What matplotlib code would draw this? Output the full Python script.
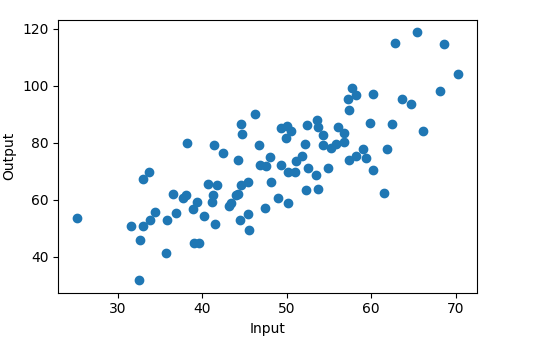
import numpy as np
import matplotlib
matplotlib.use("Agg")
import matplotlib.pyplot as plt

# values
input_vals = [
    25.2, 31.6, 32.67, 32.55, 33.02, 33.86, 34.45, 32.98, 33.74, 35.67,
    35.79, 36.5, 36.94, 37.72, 38.04, 38.87, 39.35, 39.03, 39.58, 40.21,
    40.68, 41.74, 41.27, 41.13, 41.54, 38.16, 41.4, 42.47, 44.21, 44.53,
    44.69, 46.29, 46.74, 48.01, 43.2, 43.38, 43.97, 44.21, 44.53, 45.43,
    44.51, 45.43, 45.58, 46.82, 47.5, 48.19, 47.47, 48.99, 50.18, 49.31,
    49.28, 50.06, 50.53, 49.96, 50.14, 50.95, 51.06, 51.78, 52.37, 53.56,
    53.7, 54.32, 52.22, 54.33, 52.55, 53.46, 54.86, 52.25, 53.74, 56.05,
    56.82, 56.79, 55.81, 55.22, 57.3, 57.73, 58.17, 57.41, 59.81, 62.48,
    59.08, 61.85, 58.21, 57.35, 59.36, 60.26, 60.22, 62.87, 65.41, 68.68,
    70.34, 68.21, 63.67, 64.7, 66.16, 61.57,
]
output_vals = [
    53.7, 50.7, 45.9, 31.8, 50.7, 52.9, 55.8, 67.3, 69.9, 41.4,
    52.9, 62.1, 55.5, 60.7, 61.7, 56.75, 59.4, 44.9, 44.9, 54.2,
    65.6, 65.1, 61.7, 59.3, 51.7, 80.05, 79.2, 76.5, 74.1, 86.6,
    83.1, 90.2, 79.2, 75.2, 57.8, 58.9, 61.7, 62.1, 65.2, 66.4,
    52.9, 55.1, 49.4, 72.2, 71.8, 66.4, 57.3, 60.7, 59.0, 72.3,
    85.3, 86.0, 84.2, 81.7, 69.9, 69.7, 73.5, 75.55, 86.3, 88.0,
    85.7, 82.9, 79.7, 79.2, 71.3, 68.7, 71.3, 63.4, 63.8, 85.5,
    83.35, 80.4, 79.8, 78.2, 95.4, 99.2, 96.8, 91.4, 87.15, 86.7,
    77.9, 77.8, 75.4, 74.0, 74.85, 70.5, 97.3, 115.2, 118.8, 114.7,
    104.2, 98.1, 95.5, 93.75, 84.1, 62.5,
]

fig = plt.figure(figsize=(5.52, 3.43), dpi=100)
ax = fig.add_axes([0.1056, 0.1466, 0.7594, 0.7951])
ax.scatter(input_vals, output_vals, color="#1f77b4")
ax.set_xlabel("Input")
ax.set_ylabel("Output")
fig.savefig("out.png", dpi=100)
